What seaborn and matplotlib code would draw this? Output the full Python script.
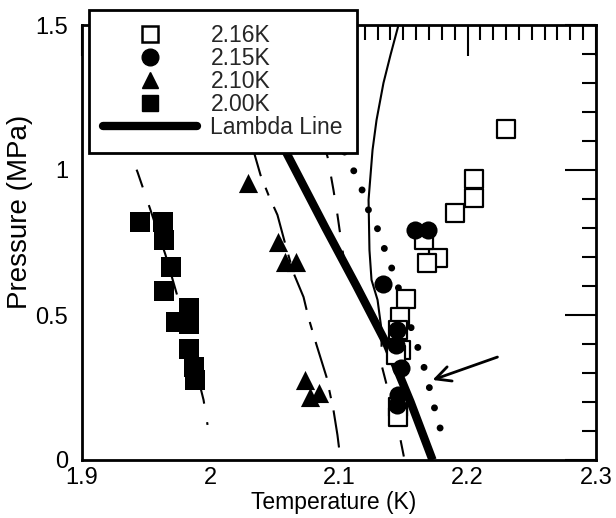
import matplotlib
matplotlib.use("Agg")
import matplotlib.pyplot as plt
from matplotlib.lines import Line2D
from matplotlib.ticker import MultipleLocator
import seaborn as sns

# measured points, temperature (K) vs pressure (MPa)
t_216 = [2.2296, 2.2047, 2.2047, 2.1899, 2.1774, 2.1681, 2.1658, 2.1518, 2.1471,
         2.1463, 2.1479, 2.1440, 2.1463, 2.1463]
p_216 = [1.141, 0.969, 0.903, 0.852, 0.697, 0.679, 0.759, 0.555, 0.493,
         0.448, 0.379, 0.362, 0.183, 0.148]

t_215 = [2.1595, 2.1689, 2.1346, 2.1455, 2.1440, 2.1479, 2.1463, 2.1455]
p_215 = [0.793, 0.793, 0.607, 0.448, 0.397, 0.317, 0.224, 0.190]

t_210 = [2.0288, 2.0529, 2.0576, 2.0669, 2.0732, 2.0778, 2.0848]
p_210 = [0.955, 0.752, 0.683, 0.683, 0.276, 0.217, 0.231]

t_200 = [1.9455, 1.9634, 1.9642, 1.9689, 1.9642, 1.9829, 1.9735, 1.9829,
         1.9829, 1.9868, 1.9883]
p_200 = [0.821, 0.821, 0.759, 0.666, 0.583, 0.524, 0.476, 0.469,
         0.383, 0.321, 0.276]

# lambda line
t_lambda = [2.1728, 2.1557, 2.1370, 2.1136, 2.0895, 2.0591, 2.0506]
p_lambda = [0.0, 0.2, 0.4, 0.6, 0.8, 1.059, 1.138]

# thin guide curves
t_curve_a = [1.9315, 1.9432, 1.9533, 1.9650, 1.9751, 1.9868, 1.9946, 1.9977]
p_curve_a = [1.121, 0.993, 0.862, 0.707, 0.552, 0.345, 0.207, 0.121]

t_curve_b = [2.0311, 2.0389, 2.0451, 2.0521, 2.0584, 2.0646, 2.0724, 2.0763,
             2.0825, 2.0903, 2.0957, 2.0988, 2.1012]
p_curve_b = [1.103, 0.983, 0.914, 0.845, 0.741, 0.645, 0.562, 0.490,
             0.397, 0.286, 0.172, 0.086, 0.0]

t_curve_c = [2.0872, 2.0911, 2.0957, 2.0988, 2.1027, 2.1058]
p_curve_c = [1.103, 1.045, 0.931, 0.845, 0.724, 0.638]

t_curve_d = [2.1463, 2.1401, 2.1346, 2.1292, 2.1261, 2.1230, 2.1237, 2.1253,
             2.1300, 2.1331]
p_curve_d = [1.5, 1.397, 1.300, 1.172, 1.069, 0.897, 0.724, 0.621,
             0.552, 0.448]

t_curve_d_low = [2.1331, 2.1331, 2.1401, 2.1479, 2.1510]
p_curve_d_low = [0.448, 0.328, 0.207, 0.069, 0.0]

t_dotted = [2.1043, 2.1105, 2.1175, 2.1222, 2.1300, 2.1354, 2.1416, 2.1494,
            2.1572, 2.1626, 2.1673, 2.1712, 2.1751, 2.1798]
p_dotted = [1.062, 1.007, 0.938, 0.869, 0.797, 0.728, 0.655, 0.552,
            0.441, 0.372, 0.303, 0.234, 0.166, 0.093]

arrow_head = (2.1728, 0.276)
arrow_tail = (2.2233, 0.355)

x_ticks = [1.9, 2.0, 2.1, 2.2, 2.3]
x_ticklabels = ["1.9", "2", "2.1", "2.2", "2.3"]
y_ticks = [0, 0.5, 1.0, 1.5]
y_ticklabels = ["0", "0.5", "1", "1.5"]

series_labels = ["2.16K", "2.15K", "2.10K", "2.00K", "Lambda Line"]

sns.set_theme(style="white")
plt.rcParams["font.family"] = ["Liberation Sans", "DejaVu Sans"]

fig = plt.figure(figsize=(6.16, 5.18), dpi=100)
ax = fig.add_axes([82 / 616, 58 / 518, 514 / 616, 435 / 518])

line_kw = dict(sort=False, estimator=None, legend=False, ax=ax, color="black")
sns.lineplot(x=t_curve_a, y=p_curve_a, lw=1.5, linestyle=(0, (9, 9)), zorder=2, **line_kw)
sns.lineplot(x=t_curve_b, y=p_curve_b, lw=1.5, linestyle=(0, (18, 6, 4, 6)), zorder=2, **line_kw)
sns.lineplot(x=t_curve_c, y=p_curve_c, lw=1.5, linestyle=(0, (9, 9)), zorder=2, **line_kw)
sns.lineplot(x=t_curve_d, y=p_curve_d, lw=1.5, zorder=2, **line_kw)
sns.lineplot(x=t_curve_d_low, y=p_curve_d_low, lw=1.5, linestyle=(0, (8, 10)), zorder=2, **line_kw)
sns.lineplot(x=t_dotted, y=p_dotted, lw=5, linestyle=(0, (0.01, 3.0)),
             dash_capstyle="round", zorder=2, **line_kw)
sns.lineplot(x=t_lambda, y=p_lambda, lw=6, solid_capstyle="butt", zorder=3, **line_kw)

sns.scatterplot(x=t_216, y=p_216, marker="s", s=150, color="white",
                edgecolor="black", linewidth=1.6, ax=ax, zorder=4, legend=False)
sns.scatterplot(x=t_215, y=p_215, marker="o", s=170, color="black",
                edgecolor="black", linewidth=0, ax=ax, zorder=5, legend=False)
sns.scatterplot(x=t_210, y=p_210, marker="^", s=190, color="black",
                edgecolor="black", linewidth=0, ax=ax, zorder=5, legend=False)
sns.scatterplot(x=t_200, y=p_200, marker="s", s=200, color="black",
                edgecolor="black", linewidth=0, ax=ax, zorder=5, legend=False)

ax.annotate("", xy=arrow_head, xytext=arrow_tail,
            arrowprops=dict(arrowstyle="->,head_length=0.9,head_width=0.45",
                            lw=2, color="black", shrinkA=0, shrinkB=0))

ax.set_xlim(1.9, 2.3)
ax.set_ylim(0, 1.5)
ax.set_xticks(x_ticks)
ax.set_xticklabels(x_ticklabels)
ax.set_yticks(y_ticks)
ax.set_yticklabels(y_ticklabels)
ax.xaxis.set_minor_locator(MultipleLocator(0.01))
ax.yaxis.set_minor_locator(MultipleLocator(0.1))
ax.tick_params(which="both", direction="in", top=True, right=True,
               width=1.5, color="black", labelcolor="black", labelsize=17)
ax.tick_params(which="major", length=22)
ax.tick_params(axis="x", which="major", pad=5)
ax.tick_params(axis="y", which="major", pad=10)
ax.tick_params(axis="x", which="minor", length=11)
ax.tick_params(axis="y", which="minor", length=10)
for spine in ax.spines.values():
    spine.set_linewidth(2)
    spine.set_color("black")

ax.set_xlabel("Temperature (K)", fontsize=16.5, color="black")
ax.set_ylabel("Pressure (MPa)", fontsize=20, color="black")
ax.xaxis.set_label_coords(0.49, -0.072)
ax.yaxis.set_label_coords(-0.095, 0.57)

handles = [
    Line2D([], [], ls="none", marker="s", ms=11, mfc="white", mec="black", mew=1.8),
    Line2D([], [], ls="none", marker="o", ms=12, color="black"),
    Line2D([], [], ls="none", marker="^", ms=12, color="black"),
    Line2D([], [], ls="none", marker="s", ms=12, color="black"),
    Line2D([], [], color="black", lw=6, solid_capstyle="round"),
]
leg = ax.legend(handles, series_labels, loc="upper left",
                bbox_to_anchor=(89 / 616, 1 - 10 / 518), bbox_transform=fig.transFigure,
                borderaxespad=0, fontsize=16.5, handlelength=4.1, handletextpad=0.6,
                labelspacing=0.0, borderpad=0.6, fancybox=False, framealpha=1,
                edgecolor="black")
leg.get_frame().set_linewidth(2)
leg.set_zorder(10)

fig.savefig("out.png", dpi=100)
